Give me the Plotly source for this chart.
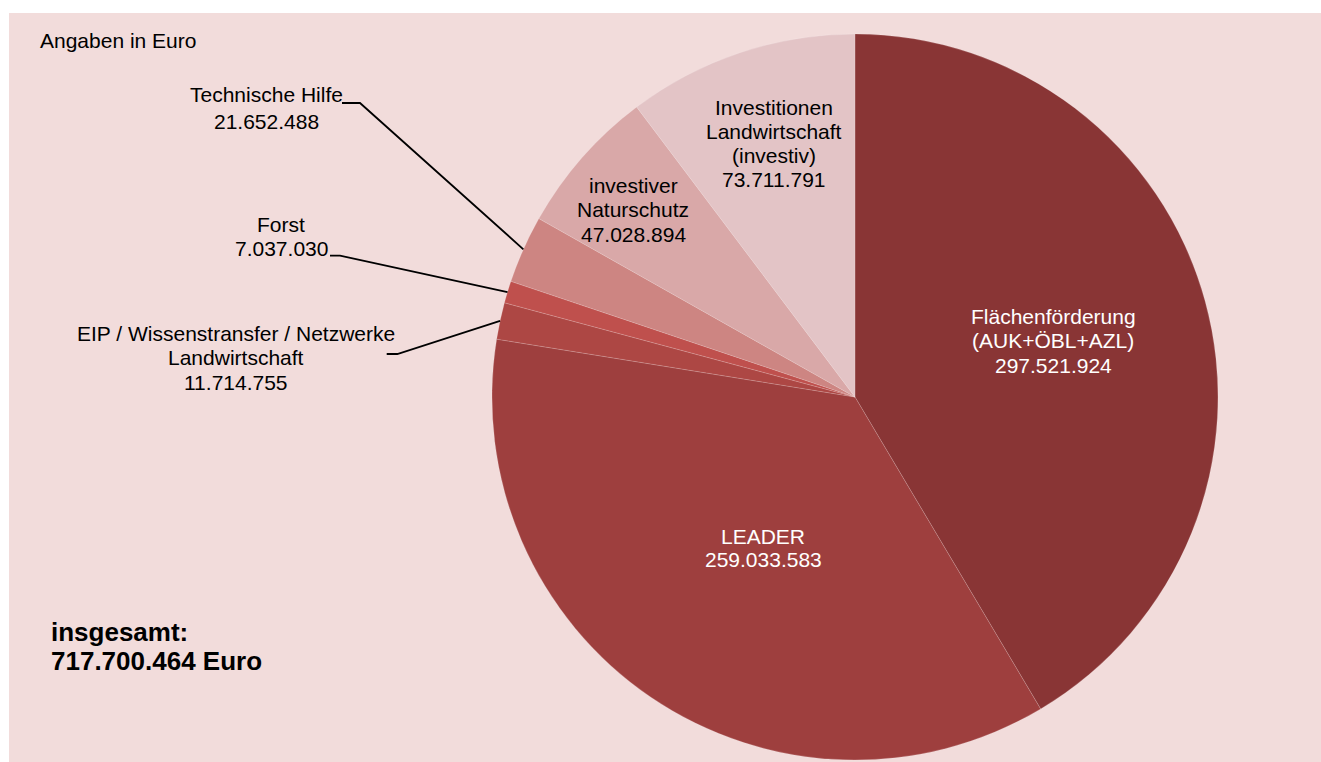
import math
import plotly.graph_objects as go

# ---------------- data ----------------
categories = [
    "Flächenförderung (AUK+ÖBL+AZL)",
    "LEADER",
    "EIP / Wissenstransfer / Netzwerke Landwirtschaft",
    "Forst",
    "Technische Hilfe",
    "investiver Naturschutz",
    "Investitionen Landwirtschaft (investiv)",
]
values = [297521924, 259033583, 11714755, 7037030, 21652488, 47028894, 73711791]
label_lines = [
    ["Flächenförderung", "(AUK+ÖBL+AZL)"],
    ["LEADER"],
    ["EIP / Wissenstransfer / Netzwerke", "Landwirtschaft"],
    ["Forst"],
    ["Technische Hilfe"],
    ["investiver", "Naturschutz"],
    ["Investitionen", "Landwirtschaft", "(investiv)"],
]
value_text = ["297.521.924", "259.033.583", "11.714.755", "7.037.030",
              "21.652.488", "47.028.894", "73.711.791"]
total_text = ["insgesamt:", "717.700.464 Euro"]
unit_text = "Angaben in Euro"

# ---------------- styles / layout ----------------
W, H = 1321, 762
colors = ["#893535", "#9E3F3E", "#AD4744", "#BF504D", "#CD8582", "#D9A8A8", "#E3C4C6"]
bg = "#F2DCDB"
FONT = "Liberation Sans, Arial, Helvetica, sans-serif"
cx, cy, R = 855, 397, 363  # pie centre / radius in pixels

def px(x):
    return x / W

def py(y):
    return 1 - y / H

# label placement (pixel positions of each text line's centre)
label_x = [1053, 763, 235.5, 281, 266, 633, 773.5]
label_y0 = [316.3, 536.7, 333, 224.8, 94.5, 185.8, 107.2]
label_dy = [24.5, 23, 24.6, 24, 27, 24.2, 24]
label_col = ["white", "white", "black", "black", "black", "black", "black"]
# leader-line anchors (label side) for outside labels: (x_start, x_tick_end, y)
leaders = {2: (386.7, 397.3, 354), 3: (330, 340, 255.7), 4: (342, 360, 103)}

fig = go.Figure(go.Pie(
    labels=categories,
    values=values,
    sort=False,
    direction="clockwise",
    rotation=0,
    marker=dict(colors=colors, line=dict(color="rgba(255,255,255,0.2)", width=0.8)),
    textinfo="none",
    hoverinfo="label+value",
    showlegend=False,
    domain=dict(x=[px(cx - R), px(cx + R)], y=[py(cy + R), py(cy - R)]),
))

annotations = []
for i, lines in enumerate(label_lines):
    all_lines = lines + [value_text[i]]
    for k, t in enumerate(all_lines):
        annotations.append(dict(
            x=px(label_x[i]), y=py(label_y0[i] + k * label_dy[i]),
            xref="paper", yref="paper", text=t, showarrow=False,
            xanchor="center", yanchor="middle",
            font=dict(family=FONT, size=21, color=label_col[i]),
        ))

annotations.append(dict(
    x=px(38), y=py(40), xref="paper", yref="paper", text=unit_text,
    showarrow=False, xanchor="left", yanchor="middle",
    font=dict(family=FONT, size=21, color="black"),
))
for k, t in enumerate(total_text):
    annotations.append(dict(
        x=px(49), y=py(632 + k * 29), xref="paper", yref="paper",
        text="<b>" + t + "</b>", showarrow=False, xanchor="left", yanchor="middle",
        font=dict(family=FONT, size=26, color="black"),
    ))

shapes = [dict(type="rect", xref="paper", yref="paper",
               x0=px(9), x1=1, y0=0, y1=py(13),
               fillcolor=bg, line=dict(width=0), layer="below")]

# leader lines: end points on the pie edge computed from data
total = sum(values)
cum = 0
for i, v in enumerate(values):
    mid = (cum + v / 2) / total * 2 * math.pi
    cum += v
    if i in leaders:
        x0, x1, yl = leaders[i]
        ex = cx + R * math.sin(mid)
        ey = cy - R * math.cos(mid)
        path = "M {} {} L {} {} L {} {}".format(
            px(x0), py(yl), px(x1), py(yl), px(ex), py(ey))
        shapes.append(dict(type="path", xref="paper", yref="paper", path=path,
                           line=dict(color="black", width=1.8)))

fig.update_layout(
    width=W, height=H,
    margin=dict(l=0, r=0, t=0, b=0),
    paper_bgcolor="white",
    plot_bgcolor="white",
    annotations=annotations,
    shapes=shapes,
)

fig.write_html("out.html", config={"displayModeBar": False},
               post_script="document.body.style.margin='0';")
